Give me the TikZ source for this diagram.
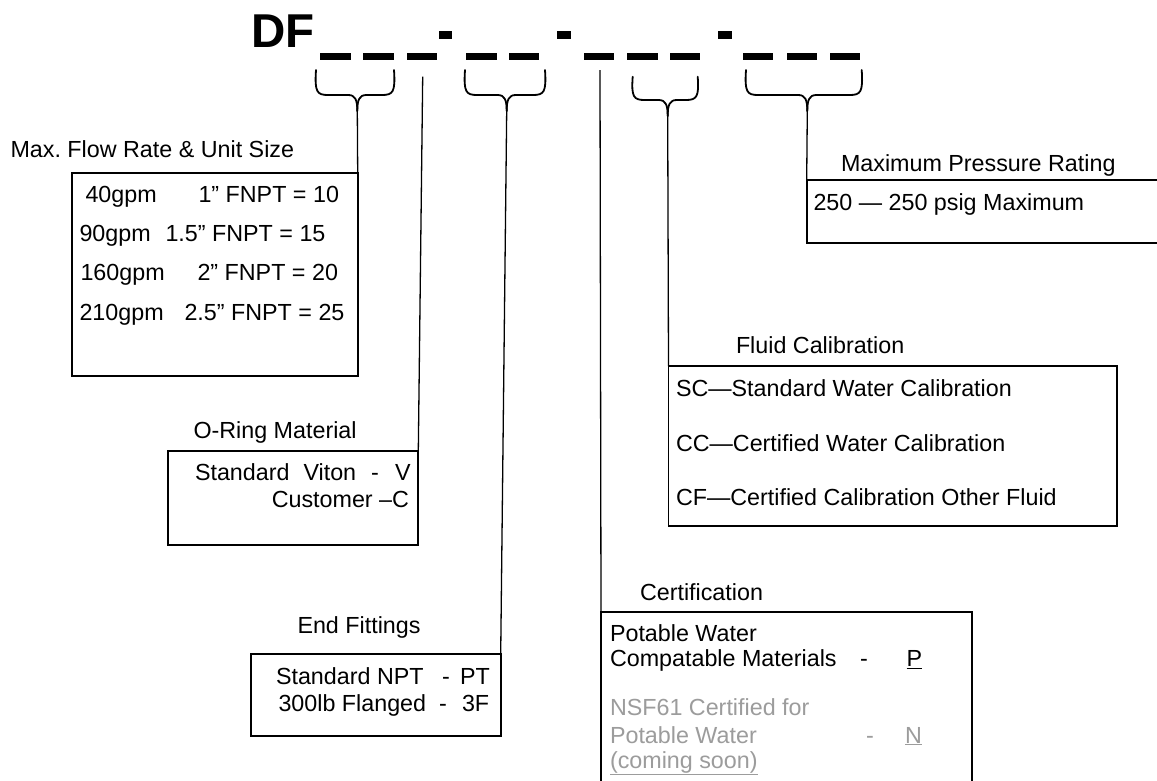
\documentclass[tikz,border=0pt]{standalone}
\usepackage{fontspec}
\setmainfont{Liberation Sans}
\frenchspacing
\definecolor{softgray}{HTML}{9C9C9C}
\newcommand\bracepath[6]{%
  \draw[bracestyle] (#1,#4) .. controls (#1-1.5,#5-3) and (#1+1,#5) .. (#1+12,#5) -- (#3-9,#5) .. controls (#3-2,#5) and (#3,#5+5) .. (#3,#5+16);
  \draw[bracestyle] (#2,#4) .. controls (#2+1.5,#5-3) and (#2-1,#5) .. (#2-12,#5) -- (#3+9,#5) .. controls (#3+2,#5) and (#3,#5+5) .. (#3,#5+16);
  \coordinate (#6) at (#3,#5+16);}
\begin{document}
\begin{tikzpicture}[x=1pt,y=-1pt,
  box/.style={draw, line width=1.8pt, rectangle, inner sep=0pt, outer sep=0pt, anchor=north west},
  conn/.style={line width=1.3pt},
  bracestyle/.style={line width=1.8pt, line cap=round},
  txt/.style={inner sep=0pt, outer sep=0pt, anchor=base west, font=\fontsize{23.3}{28}\selectfont\frenchspacing},
  txtr/.style={txt, anchor=base east},
  graytxt/.style={txt, text=softgray}]
\clip (0,0) rectangle (1157,780);
\fill[white] (0,0) rectangle (1157,780);

% title and blanks
\node[inner sep=0pt, anchor=base west, font=\fontsize{47.5}{50}\selectfont\bfseries] (title) at (251.5,47.3) {DF};
\foreach \a/\b in {320/351, 363/394, 406.7/436.7, 466/497, 509/539, 584/614, 627/658, 670/700, 743/773, 787/817, 830/860}
  \fill (\a,53.3) rectangle (\b,59.7);
\foreach \a/\b in {439/452, 557/571, 717.5/731.5}
  \fill (\a,31) rectangle (\b,38.5);

% braces
\bracepath{316}{394}{357.3}{70}{95}{tipA}
\bracepath{465}{545}{506.7}{70}{95}{tipB}
\bracepath{632.7}{697.7}{667.7}{76.7}{100}{tipC}
\bracepath{746}{861.7}{807.3}{70}{95}{tipD}
\coordinate (oringtop) at (422.7,76.7);
\coordinate (certtop) at (600,70);

% boxes
\node[box, minimum width=286pt, minimum height=203pt] (flowbox) at (71.7,172.7) {};
\node[box, minimum width=250pt, minimum height=94pt] (oringbox) at (168.3,451) {};
\node[box, minimum width=250pt, minimum height=81.7pt] (endbox) at (250.7,654) {};
\node[box, minimum width=370.7pt, minimum height=200pt] (certbox) at (601,611.7) {};
\node[box, minimum width=448.5pt, minimum height=160pt] (fluidbox) at (668.5,366) {};
\node[box, minimum width=400pt, minimum height=63.3pt] (presbox) at (806.7,180) {};

% connectors
\draw[conn] (tipA) -- (flowbox.north east);
\draw[conn] (oringtop) -- (oringbox.north east);
\draw[conn] (tipB) -- (endbox.north east);
\draw[conn] (certtop) -- (certbox.north west);
\draw[conn] (tipC) -- (fluidbox.north west);
\draw[conn] (tipD) -- (presbox.north west);

% Max flow
\node[txt] (flowlbl) at (10.5,157) {Max.\ Flow Rate \& Unit Size};
\node[txt] (r1a) at (85.5,202.7) {40gpm};
\node[txt] (r1b) at (198.5,202.7) {1” FNPT = 10};
\node[txt] (r2a) at (79.5,241.7) {90gpm};
\node[txt] (r2b) at (165.5,241.7) {1.5” FNPT = 15};
\node[txt] (r3a) at (80.5,280.7) {160gpm};
\node[txt] (r3b) at (197.5,280.7) {2” FNPT = 20};
\node[txt] (r4a) at (79.5,320) {210gpm};
\node[txt] (r4b) at (184.5,320) {2.5” FNPT = 25};

% O-ring
\node[txt] (oringlbl) at (193.5,438) {O-Ring Material};
\node[txt] (o1a) at (195,480) {Standard};
\node[txt] (o1b) at (303.5,480) {Viton};
\node[txt] (o1c) at (371,480) {-};
\node[txt] (o1d) at (395,480) {V};
\node[txtr] (o2) at (409,507) {Customer –C};

% End fittings
\node[txt] (endlbl) at (297.5,633) {End Fittings};
\node[txt] (e1a) at (276,684) {Standard NPT};
\node[txt] (e1b) at (442,684) {-};
\node[txt] (e1c) at (460,684) {PT};
\node[txt] (e2a) at (278.5,711.7) {300lb Flanged};
\node[txt] (e2b) at (439,711.7) {-};
\node[txt] (e2c) at (462,711.7) {3F};

% Certification
\node[txt] (certlbl) at (640,600) {Certification};
\node[txt] (c1) at (610,641.7) {Potable Water};
\node[txt] (c2) at (610,666.7) {Compatable Materials};
\node[txt] (c2d) at (860,666.7) {-};
\node[txt] (c2p) at (906.5,666.7) {\underline{P}};
\node[graytxt] (c3) at (610,715) {NSF61 Certified for};
\node[graytxt] (c4) at (610,743) {Potable Water};
\node[graytxt] (c4d) at (866,743) {-};
\node[graytxt] (c4n) at (905,743) {\underline{N}};
\node[graytxt] (c5) at (610,768) {\underline{(coming soon)}};

% Fluid calibration
\node[txt] (fluidlbl) at (736,353) {Fluid Calibration};
\node[txt] (f1) at (676,396) {SC—Standard Water Calibration};
\node[txt] (f2) at (676,451) {CC—Certified Water Calibration};
\node[txt] (f3) at (676,505.5) {CF—Certified Calibration Other Fluid};

% Pressure
\node[txt] (preslbl) at (841,171.7) {Maximum Pressure Rating};
\node[txt] (p1) at (813.5,210) {250 — 250 psig Maximum};
\end{tikzpicture}
\end{document}
